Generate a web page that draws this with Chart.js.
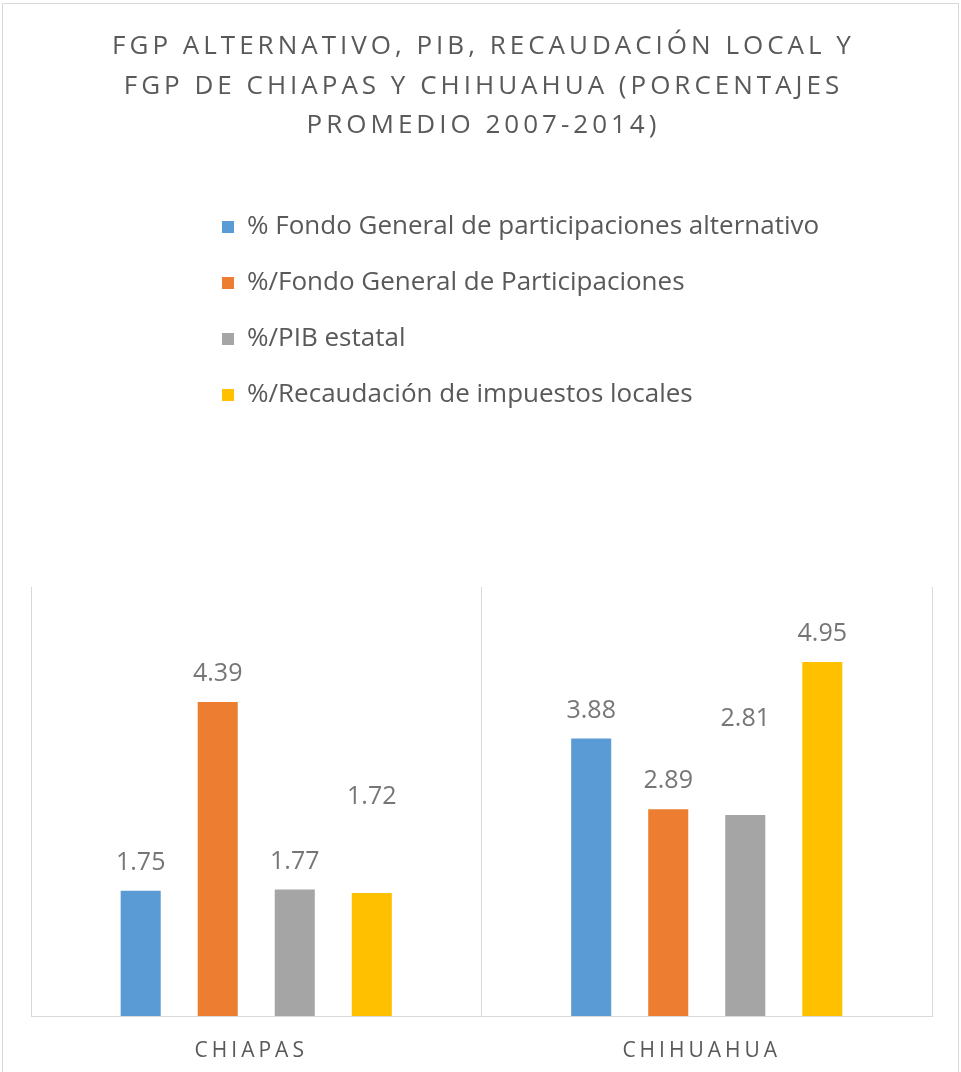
<!DOCTYPE html>
<html>
<head>
<meta charset="utf-8">
<script src="https://cdn.jsdelivr.net/npm/chart.js@4.4.1/dist/chart.umd.min.js"></script>
<style>
  html, body { margin: 0; padding: 0; background: #fff; }
  #wrap { position: relative; width: 961px; height: 1072px; }
</style>
</head>
<body>
<div id="wrap"><canvas id="chart"></canvas></div>
<script>
// datos (porcentajes promedio 2007-2014)
const estados = ['CHIAPAS', 'CHIHUAHUA'];
const fgpAlternativo = [1.75, 3.88];
const fgpActual = [4.39, 2.89];
const pibEstatal = [1.77, 2.81];
const recaudacionLocal = [1.72, 4.95];

const nombresSeries = [
    '% Fondo General de participaciones alternativo',
    '%/Fondo General de Participaciones',
    '%/PIB estatal',
    '%/Recaudación de impuestos locales'
];
const titulo = [
    'FGP ALTERNATIVO, PIB, RECAUDACIÓN LOCAL Y',
    'FGP DE CHIAPAS Y CHIHUAHUA (PORCENTAJES',
    'PROMEDIO 2007-2014)'
];

const colores = ['#5B9BD5', '#ED7D31', '#A5A5A5', '#FFC000'];
const GRIS_TEXTO = '#595959';
const GRIS_LINEA = '#d9d9d9';
const FUENTE = '"Open Sans", "Liberation Sans", sans-serif';

// etiquetas movidas a mano hacia arriba en el original (serie -> categoria -> px)
const etiquetaElevada = { 2: { 1: 68 }, 3: { 0: 68 } };

function conEspaciado(ctx, px, dx, dy, fn) {
    ctx.save();
    ctx.letterSpacing = px + 'px';
    ctx.translate(dx, dy);
    fn();
    ctx.restore();
}

const ajustes = {
    id: 'ajustes',
    afterInit(chart) {
        const t = chart.titleBlock;
        const drawTitle = t.draw.bind(t);
        t.draw = (area) => conEspaciado(chart.ctx, 4, 2, 0, () => drawTitle(area));

        // leyenda en una sola columna
        const lg = chart.legend;
        const fitLegend = lg.fit.bind(lg);
        lg.fit = function () {
            fitLegend();
            this.height = 403;
        };
    },
    afterLayout(chart) {
        const lg = chart.legend;
        lg.left = 192;
        lg.right = 900;
        const x = chart.scales.x;
        if (!x._espaciado) {
            const dl = x.drawLabels.bind(x);
            x.drawLabels = (a) => conEspaciado(chart.ctx, 4, -5, 14, () => dl(a));
            x._espaciado = true;
        }
    },
    beforeDraw(chart) {
        const ctx = chart.ctx;
        ctx.save();
        ctx.strokeStyle = GRIS_LINEA;
        ctx.lineWidth = 1;
        ctx.strokeRect(2.5, 3.5, 956, 1100);
        ctx.restore();
    },
    afterDatasetsDraw(chart) {
        const ctx = chart.ctx;
        ctx.save();
        ctx.font = '25px ' + FUENTE;
        ctx.fillStyle = '#767676';
        ctx.textAlign = 'center';
        ctx.textBaseline = 'middle';
        chart.data.datasets.forEach((ds, i) => {
            chart.getDatasetMeta(i).data.forEach((bar, j) => {
                const lift = (etiquetaElevada[i] && etiquetaElevada[i][j]) || 0;
                ctx.fillText(ds.data[j].toFixed(2), bar.x, bar.y - 28 - lift);
            });
        });
        ctx.restore();
    }
};

const valores = [fgpAlternativo, fgpActual, pibEstatal, recaudacionLocal];
const datasets = valores.map((data, i) => ({
    label: nombresSeries[i],
    data: data,
    backgroundColor: colores[i],
    borderWidth: 0,
    categoryPercentage: 0.684,
    barPercentage: 0.52
}));

new Chart(document.getElementById('chart'), {
    type: 'bar',
    data: { labels: estados, datasets },
    plugins: [ajustes],
    options: {
        responsive: true,
        maintainAspectRatio: false,
        animation: false,
        layout: { padding: { left: 31, right: 29, top: 0, bottom: 14.8 } },
        plugins: {
            title: {
                display: true,
                text: titulo,
                color: GRIS_TEXTO,
                font: { family: FUENTE, size: 26, weight: 'normal', lineHeight: 1.519 },
                padding: { top: 27, bottom: 38.5 }
            },
            legend: {
                position: 'top',
                align: 'start',
                labels: {
                    color: GRIS_TEXTO,
                    font: { family: FUENTE, size: 26 },
                    boxWidth: 12,
                    boxHeight: 12,
                    padding: 30
                }
            },
            tooltip: { enabled: false }
        },
        scales: {
            x: {
                grid: { color: GRIS_LINEA, lineWidth: 1, drawTicks: false, offset: true },
                border: { color: GRIS_LINEA },
                ticks: {
                    color: GRIS_TEXTO,
                    font: { family: FUENTE, size: 21 },
                    padding: 8
                }
            },
            y: {
                display: false,
                min: 0,
                max: 6
            }
        }
    }
});
</script>
</body>
</html>
